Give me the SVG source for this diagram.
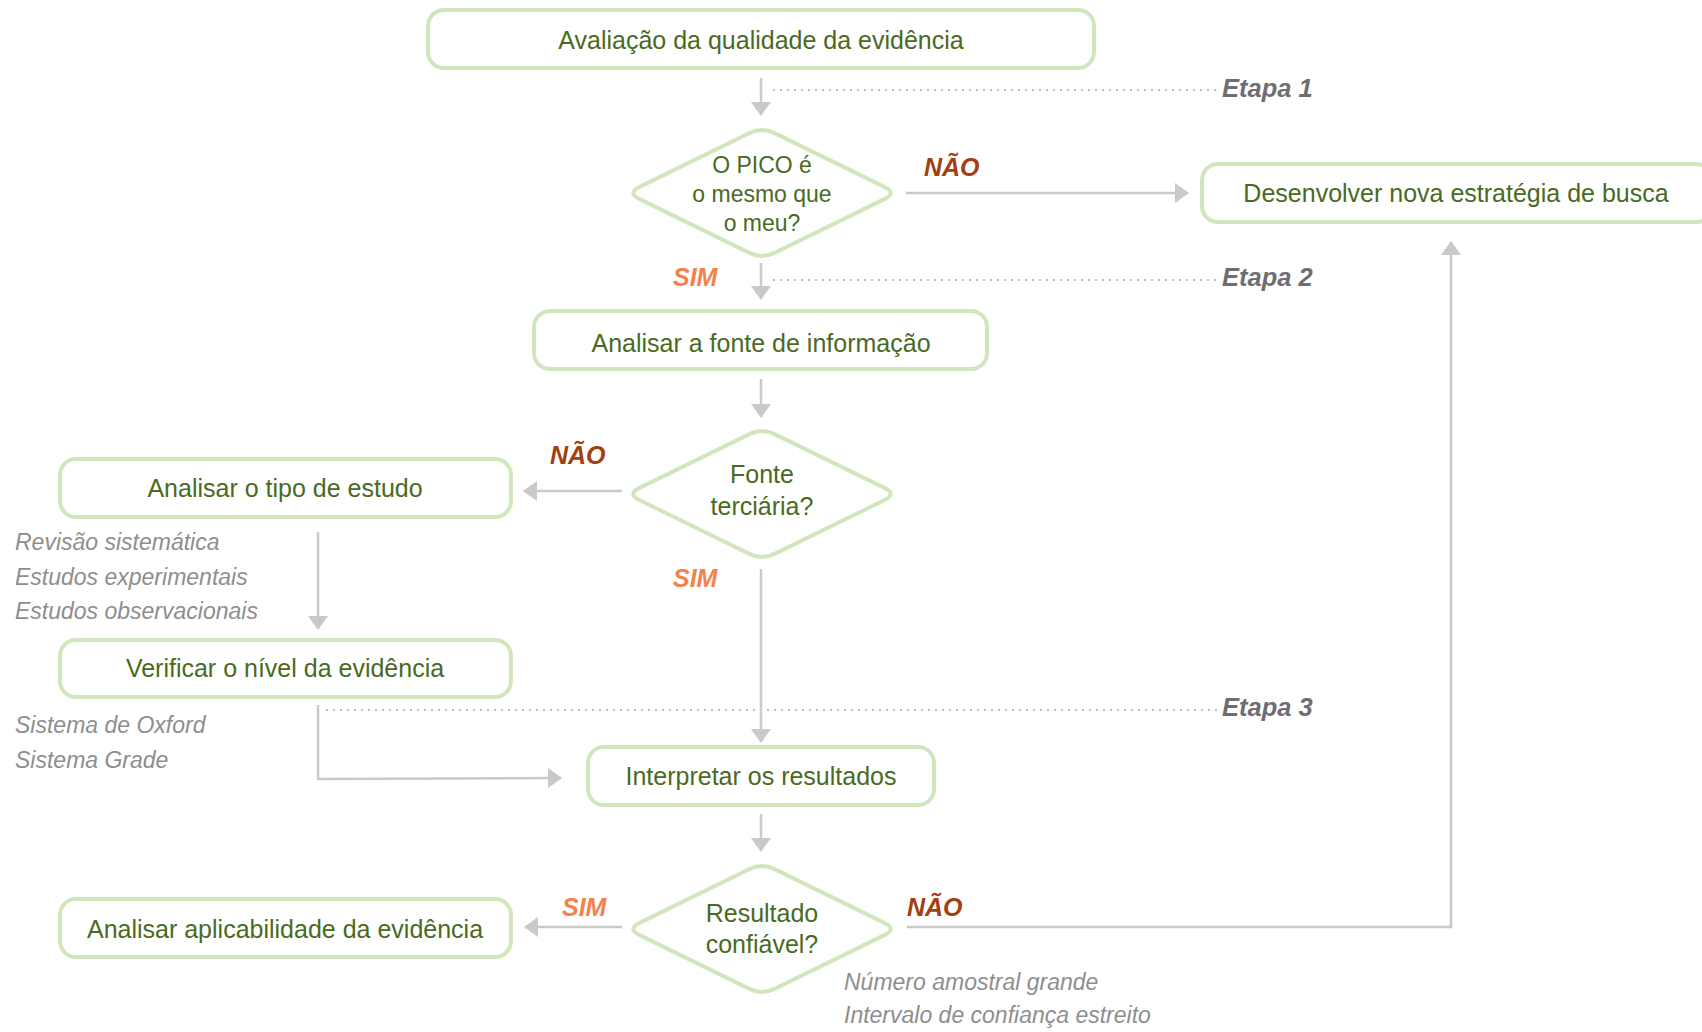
<svg xmlns="http://www.w3.org/2000/svg" xmlns:xlink="http://www.w3.org/1999/xlink" width="1702" height="1032" viewBox="0 0 1702 1032">
<style>
.box{fill:#fff;stroke:#d2e6bc;stroke-width:4}
.t{font-family:"Liberation Sans",Arial,sans-serif;fill:#4a6a22;text-anchor:middle}
.bt{font-size:25px}
.dt{font-size:23px}
.d2{font-size:25px}
.con{fill:none;stroke:#c9c9cc;stroke-width:2.5}
.dot{fill:none;stroke:#bdbdbd;stroke-width:2;stroke-dasharray:2 5}
.lab{font-family:"Liberation Sans",Arial,sans-serif;font-weight:bold;font-style:italic;font-size:25px}
.nao{fill:#a2400f}
.sim{fill:#f4814b}
.etapa{font-family:"Liberation Sans",Arial,sans-serif;font-weight:bold;font-style:italic;font-size:25.5px;fill:#6e6e72}
.note{font-family:"Liberation Sans",Arial,sans-serif;font-style:italic;font-size:23px;fill:#8e8e8e}
</style>
<defs>
<marker id="ah" viewBox="0 0 14 20" refX="13" refY="10" markerWidth="14" markerHeight="20" markerUnits="userSpaceOnUse" orient="auto">
<path d="M0,0 L14,10 L0,20 Z" fill="#c9c9cc"/>
</marker>
<path id="dia" d="M -122.4,-6.15 L -12.6,-59.85 Q 0,-66 12.6,-59.85 L 122.4,-6.15 Q 135,0 122.4,6.15 L 12.6,59.85 Q 0,66 -12.6,59.85 L -122.4,6.15 Q -135,0 -122.4,-6.15 Z"/>
</defs>
<rect width="1702" height="1032" fill="#fff"/>

<g id="stages">
<line class="dot" x1="773" y1="90" x2="1218" y2="90"/>
<text class="etapa" x="1222" y="97">Etapa 1</text>
<line class="dot" x1="773" y1="280" x2="1218" y2="280"/>
<text class="etapa" x="1222" y="286">Etapa 2</text>
<line class="dot" x1="326" y1="710" x2="1218" y2="710"/>
<text class="etapa" x="1222" y="716">Etapa 3</text>
</g>

<g id="connectors">
<line class="con" x1="761" y1="78" x2="761" y2="115" marker-end="url(#ah)"/>
<line class="con" x1="906" y1="193" x2="1188" y2="193" marker-end="url(#ah)"/>
<line class="con" x1="761" y1="263" x2="761" y2="299" marker-end="url(#ah)"/>
<line class="con" x1="761" y1="379" x2="761" y2="417" marker-end="url(#ah)"/>
<line class="con" x1="622" y1="491" x2="524" y2="491" marker-end="url(#ah)"/>
<line class="con" x1="318" y1="532" x2="318" y2="629" marker-end="url(#ah)"/>
<polyline class="con" points="318,705 318,779 561,778" marker-end="url(#ah)"/>
<line class="con" x1="761" y1="569" x2="761" y2="742" marker-end="url(#ah)"/>
<line class="con" x1="761" y1="814" x2="761" y2="851" marker-end="url(#ah)"/>
<line class="con" x1="622" y1="927" x2="525" y2="927" marker-end="url(#ah)"/>
<polyline class="con" points="907,927 1451,927 1451,242" marker-end="url(#ah)"/>
</g>

<g id="labels">
<text class="lab nao" x="924" y="176">NÃO</text>
<text class="lab sim" x="673" y="286">SIM</text>
<text class="lab nao" x="550" y="464">NÃO</text>
<text class="lab sim" x="673" y="587">SIM</text>
<text class="lab sim" x="562" y="916">SIM</text>
<text class="lab nao" x="907" y="916">NÃO</text>
</g>

<g id="notes">
<text class="note" x="15" y="550">Revisão sistemática</text>
<text class="note" x="15" y="585">Estudos experimentais</text>
<text class="note" x="15" y="619">Estudos observacionais</text>
<text class="note" x="15" y="733">Sistema de Oxford</text>
<text class="note" x="15" y="768">Sistema Grade</text>
<text class="note" x="844" y="990">Número amostral grande</text>
<text class="note" x="844" y="1023">Intervalo de confiança estreito</text>
</g>

<g id="n-avaliacao">
<rect class="box" x="428" y="10" width="666" height="58" rx="16"/>
<text class="t bt" x="761" y="49">Avaliação da qualidade da evidência</text>
</g>

<g id="n-pico">
<use xlink:href="#dia" href="#dia" x="762" y="193" class="box"/>
<text class="t dt" x="762" y="173">O PICO é</text>
<text class="t dt" x="762" y="202">o mesmo que</text>
<text class="t dt" x="762" y="231">o meu?</text>
</g>

<g id="n-desenvolver">
<rect class="box" x="1202" y="164" width="510" height="58" rx="16"/>
<text class="t bt" x="1456" y="202">Desenvolver nova estratégia de busca</text>
</g>

<g id="n-fonte">
<rect class="box" x="534" y="311" width="453" height="58" rx="16"/>
<text class="t bt" x="761" y="352">Analisar a fonte de informação</text>
</g>

<g id="n-terciaria">
<use xlink:href="#dia" href="#dia" x="762" y="494" class="box"/>
<text class="t d2" x="762" y="483">Fonte</text>
<text class="t d2" x="762" y="515">terciária?</text>
</g>

<g id="n-tipo">
<rect class="box" x="60" y="459" width="451" height="58" rx="16"/>
<text class="t bt" x="285" y="497">Analisar o tipo de estudo</text>
</g>

<g id="n-nivel">
<rect class="box" x="60" y="640" width="451" height="57" rx="16"/>
<text class="t bt" x="285" y="677">Verificar o nível da evidência</text>
</g>

<g id="n-interpretar">
<rect class="box" x="588" y="747" width="346" height="58" rx="16"/>
<text class="t bt" x="761" y="785">Interpretar os resultados</text>
</g>

<g id="n-confiavel">
<use xlink:href="#dia" href="#dia" x="762" y="929" class="box"/>
<text class="t d2" x="762" y="922">Resultado</text>
<text class="t d2" x="762" y="953">confiável?</text>
</g>

<g id="n-aplicabilidade">
<rect class="box" x="60" y="899" width="451" height="58" rx="16"/>
<text class="t bt" x="285" y="938">Analisar aplicabilidade da evidência</text>
</g>
</svg>
